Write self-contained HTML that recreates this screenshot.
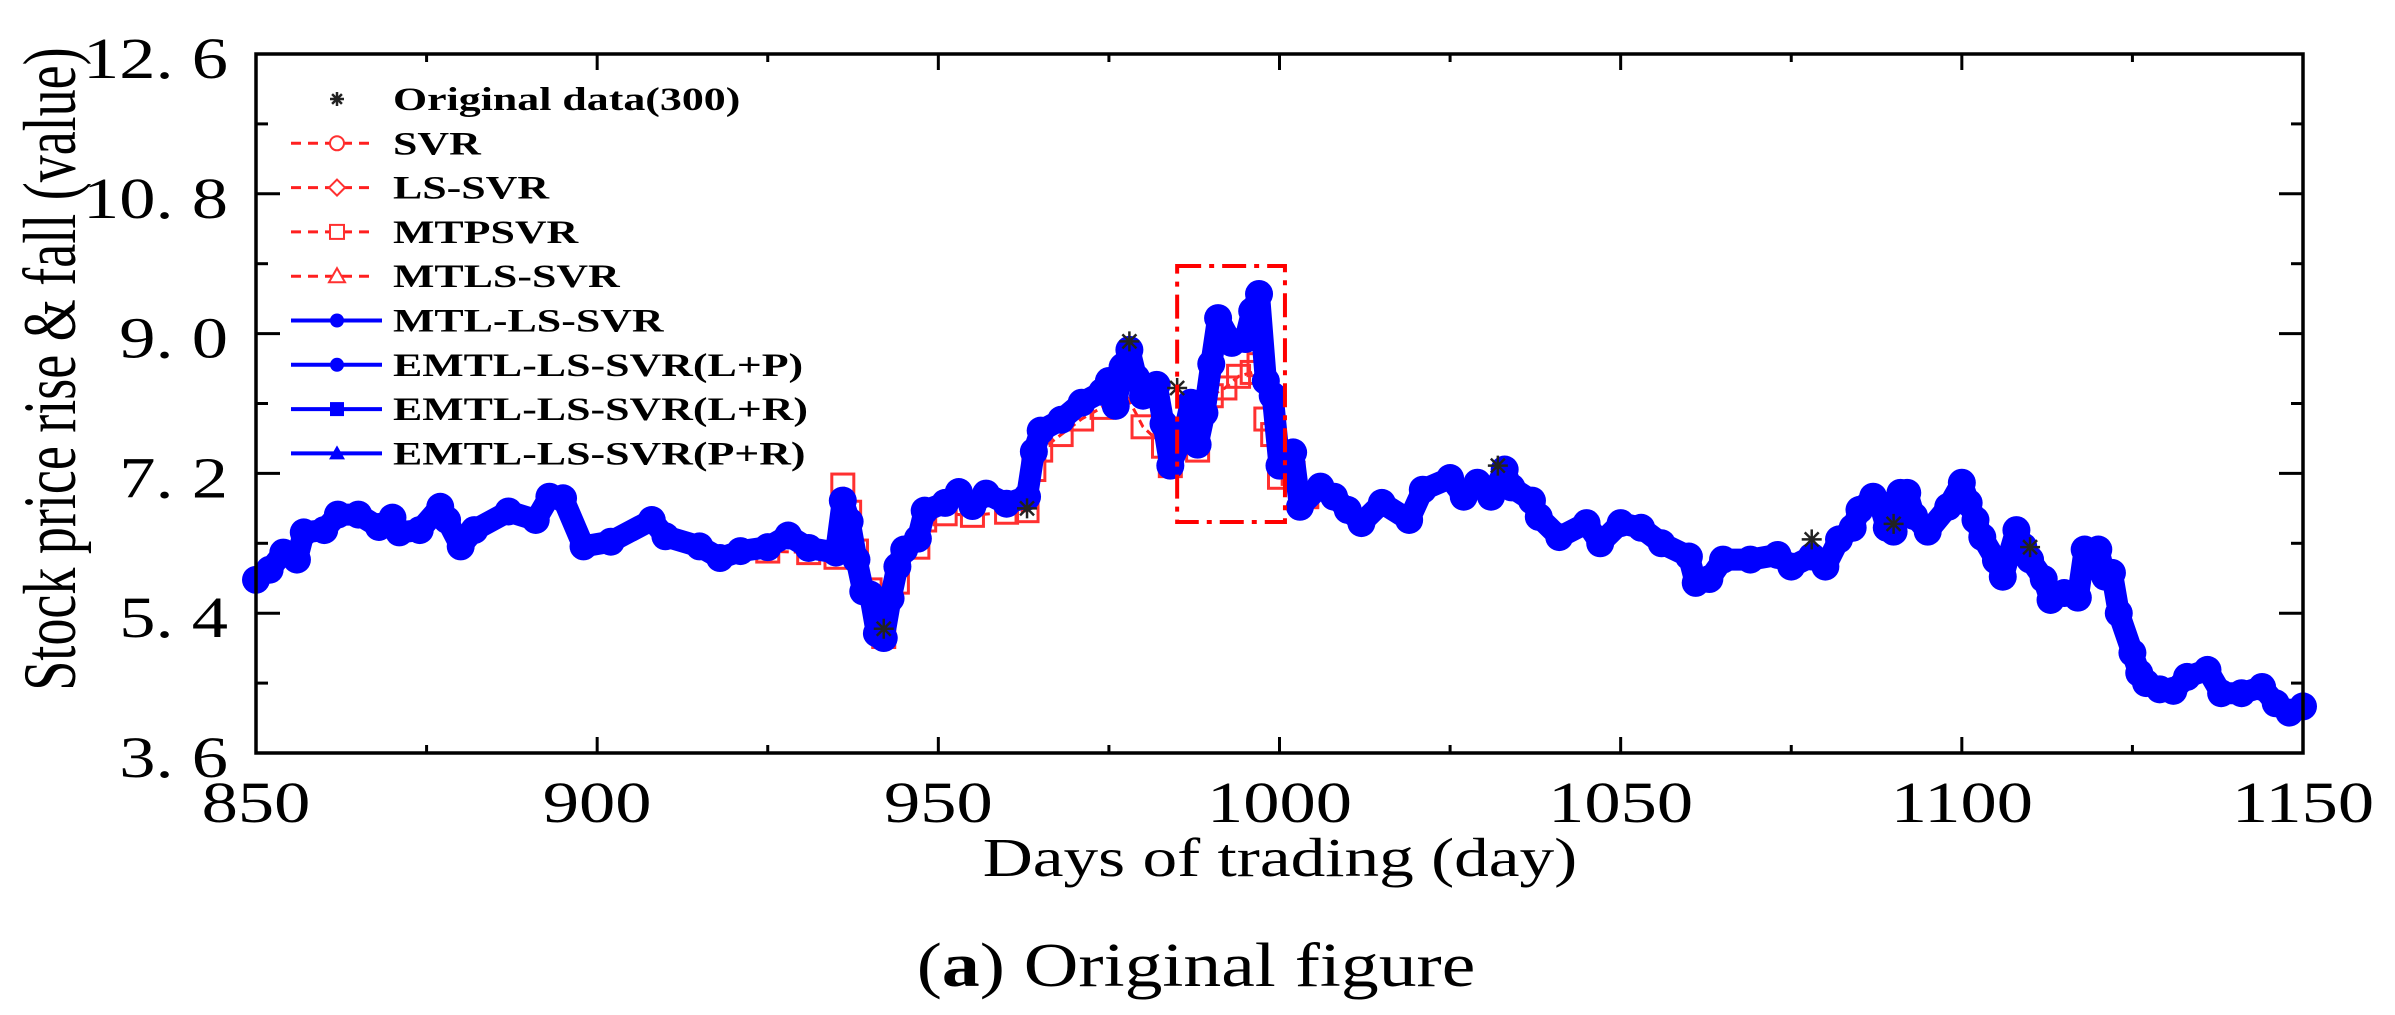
<!DOCTYPE html>
<html><head><meta charset="utf-8"><style>
html,body{margin:0;padding:0;background:#fff;}
svg{display:block;}
text{font-family:"Liberation Serif",serif;}
</style></head><body>
<svg id="chart" width="2395" height="1015" viewBox="0 0 2395 1015">
<rect x="0" y="0" width="2395" height="1015" fill="#fff"/>
<g id="series"></g>
<g id="axes"></g>
<g id="legend"></g>
<g transform="translate(75,369) scale(1.4,1) rotate(-90)"><text x="0" y="0" font-size="54" text-anchor="middle">Stock price rise &amp; fall (value)</text></g>
<g transform="translate(1280,876) scale(1.26,1)"><text x="0" y="0" font-size="55" text-anchor="middle">Days of trading (day)</text></g>
<g transform="translate(1196,986) scale(1.22,1)"><text x="0" y="0" font-size="62" text-anchor="middle">(<tspan font-weight="bold">a</tspan>) Original figure</text></g>
</svg>
<script>
const blueDays=[850,852,854,856,857,860,862,865,868,870,871,874,877,878,880,882,887,891,893,895,898,902,908,910,915,918,921,925,928,931,935,936,937,938,939,940,941,942,943,944,945,947,948,951,953,955,957,960,963,964,965,968,971,974,975,976,977,978,979,980,982,983,984,986,987,988,989,990,991,993,995,996,997,998,999,1000,1002,1003,1006,1008,1010,1012,1015,1019,1021,1025,1027,1029,1031,1033,1034,1037,1038,1041,1045,1047,1050,1053,1056,1060,1061,1063,1065,1069,1073,1075,1078,1080,1082,1084,1085,1087,1088,1089,1090,1091,1092,1093,1095,1098,1100,1101,1102,1103,1105,1106,1108,1109,1110,1112,1113,1115,1117,1118,1120,1121,1122,1123,1125,1126,1127,1129,1131,1133,1136,1138,1141,1144,1146,1148,1150];
const blueVals=[5.83,5.96,6.18,6.09,6.44,6.47,6.67,6.67,6.51,6.63,6.44,6.47,6.77,6.6,6.26,6.47,6.71,6.6,6.9,6.88,6.26,6.32,6.6,6.39,6.26,6.11,6.2,6.25,6.4,6.24,6.18,6.85,6.58,6.09,5.68,5.64,5.14,5.08,5.59,6.0,6.22,6.36,6.72,6.82,6.96,6.78,6.94,6.81,6.9,7.48,7.75,7.89,8.11,8.25,8.39,8.07,8.57,8.79,8.43,8.2,8.34,7.84,7.3,7.71,8.11,7.57,7.98,8.61,9.2,8.88,8.93,9.29,9.51,8.39,8.2,7.3,7.47,6.77,7.03,6.9,6.73,6.56,6.82,6.6,6.99,7.14,6.9,7.08,6.9,7.25,7.02,6.85,6.64,6.38,6.56,6.3,6.56,6.5,6.3,6.13,5.79,5.84,6.09,6.09,6.15,6.0,6.13,6.0,6.35,6.5,6.73,6.9,6.8,6.5,6.45,6.95,6.95,6.65,6.45,6.77,7.08,6.82,6.6,6.38,6.08,5.87,6.47,6.26,6.09,5.84,5.57,5.66,5.6,6.22,6.22,5.87,5.92,5.4,4.89,4.63,4.5,4.42,4.4,4.58,4.67,4.37,4.37,4.45,4.24,4.12,4.2];
const redDays=[925,931,935,936,937,938,940,942,944,947,948,951,955,960,963,964,965,968,971,974,977,980,983,984,986,988,990,992,994,996,997,998,999,1000,1002,1004];
const redVals=[6.2,6.18,6.12,7.05,6.7,6.2,5.7,5.1,5.8,6.25,6.6,6.68,6.66,6.7,6.72,7.25,7.5,7.7,7.9,8.05,8.3,7.8,7.55,7.3,7.6,7.5,8.2,8.3,8.45,8.5,8.6,7.9,7.7,7.15,7.2,6.9];
const starDays=[942,963,978,985,1032,1078,1090,1110];
const starVals=[5.2,6.75,8.9,8.3,7.3,6.35,6.55,6.25];
const yTicks=["3. 6","5. 4","7. 2","9. 0","10. 8","12. 6"];
const yTickVals=[3.6,5.4,7.2,9.0,10.8,12.6];
const xTicks=[850,900,950,1000,1050,1100,1150];
const legendLabels=["Original data(300)","SVR","LS-SVR","MTPSVR","MTLS-SVR","MTL-LS-SVR","EMTL-LS-SVR(L+P)","EMTL-LS-SVR(L+R)","EMTL-LS-SVR(P+R)"];

const L=256,R=2303,T=54,B=753;
const X=d=>L+(d-850)/300*(R-L);
const Y=v=>B-(v-3.6)/9*(B-T);
const NS="http://www.w3.org/2000/svg";
function mk(tag,attrs,parent){const e=document.createElementNS(NS,tag);for(const k in attrs)e.setAttribute(k,attrs[k]);parent.appendChild(e);return e;}
const S=document.getElementById('series'),A=document.getElementById('axes'),G=document.getElementById('legend');

// red MTPSVR series
let rp=redDays.map((d,i)=>X(d).toFixed(1)+','+Y(redVals[i]).toFixed(1)).join(' ');
const rl=mk('polyline',{points:rp,fill:'none',stroke:'#ff2020','stroke-width':3,'stroke-dasharray':'8 5'},S);


redDays.forEach((d,i)=>{
  const r=mk('rect',{x:X(d)-11,y:Y(redVals[i])-11,width:22,height:22,fill:'none',stroke:'#ff3030','stroke-width':3},S);
  
  
});
// blue series
let bp=blueDays.map((d,i)=>X(d).toFixed(1)+','+Y(blueVals[i]).toFixed(1)).join(' ');
const bl=mk('polyline',{points:bp,fill:'none',stroke:'#0000ff','stroke-width':22,'stroke-linejoin':'round','stroke-linecap':'round'},S);


blueDays.forEach((d,i)=>{
  const c=mk('circle',{cx:X(d),cy:Y(blueVals[i]),r:14,fill:'#0000ff'},S);
  
  
});
// original stars
function star(x,y,s,parent,name){
  const g=mk('g',{stroke:'#222','stroke-width':2.5},parent);
  
  
  mk('line',{x1:x-s,y1:y,x2:x+s,y2:y},g);
  mk('line',{x1:x,y1:y-s,x2:x,y2:y+s},g);
  mk('line',{x1:x-s*.7,y1:y-s*.7,x2:x+s*.7,y2:y+s*.7},g);
  mk('line',{x1:x-s*.7,y1:y+s*.7,x2:x+s*.7,y2:y-s*.7},g);
}
starDays.forEach((d,i)=>star(X(d),Y(starVals[i]),10,S,'original-data-point'));
// zoom box
const zb=mk('rect',{x:X(985),y:266,width:X(1000.8)-X(985),height:256,fill:'none',stroke:'#ff0000','stroke-width':4,'stroke-dasharray':'24 8 5 8'},S);



// axes frame
const fr=mk('rect',{x:L,y:T,width:R-L,height:B-T,fill:'none',stroke:'#000','stroke-width':3.5},A);


yTickVals.forEach((v,i)=>{
  const y=Y(v);
  mk('line',{x1:L,y1:y,x2:L+24,y2:y,stroke:'#000','stroke-width':3},A);
  mk('line',{x1:R,y1:y,x2:R-24,y2:y,stroke:'#000','stroke-width':3},A);
  if(i<yTickVals.length-1){const ym=Y(v+0.9);
    mk('line',{x1:L,y1:ym,x2:L+12,y2:ym,stroke:'#000','stroke-width':3},A);
    mk('line',{x1:R,y1:ym,x2:R-12,y2:ym,stroke:'#000','stroke-width':3},A);}
  const g=mk('g',{transform:`translate(228,${y+24}) scale(1.25,1)`},A);
  
  
  const t=mk('text',{x:0,y:0,'font-size':58,'text-anchor':'end'},g);t.textContent=yTicks[i];
});
xTicks.forEach((d,i)=>{
  const x=X(d);
  mk('line',{x1:x,y1:B,x2:x,y2:B-16,stroke:'#000','stroke-width':3},A);
  mk('line',{x1:x,y1:T,x2:x,y2:T+16,stroke:'#000','stroke-width':3},A);
  if(i<xTicks.length-1){const xm=X(d+25);
    mk('line',{x1:xm,y1:B,x2:xm,y2:B-8,stroke:'#000','stroke-width':3},A);
    mk('line',{x1:xm,y1:T,x2:xm,y2:T+8,stroke:'#000','stroke-width':3},A);}
  const g=mk('g',{transform:`translate(${x},822) scale(1.25,1)`},A);
  
  
  const t=mk('text',{x:0,y:0,'font-size':58,'text-anchor':'middle'},g);t.textContent=xTicks[i];
});

// legend
legendLabels.forEach((lab,i)=>{
  const y=99+i*44.3;
  const g=mk('g',{},G);
  
  
  if(i===0){star(337,y,7,g,'legend-star');}
  else if(i<5){
    mk('line',{x1:291,y1:y,x2:374,y2:y,stroke:'#ff2020','stroke-width':3,'stroke-dasharray':'10 7'},g);
    if(i===1) mk('circle',{cx:337,cy:y,r:7,fill:'#fff',stroke:'#ff3030','stroke-width':2},g);
    if(i===2) mk('polygon',{points:`337,${y-8} 345,${y} 337,${y+8} 329,${y}`,fill:'#fff',stroke:'#ff3030','stroke-width':2},g);
    if(i===3) mk('rect',{x:330,y:y-7,width:14,height:14,fill:'#fff',stroke:'#ff3030','stroke-width':2},g);
    if(i===4) mk('polygon',{points:`337,${y-8} 345,${y+6} 329,${y+6}`,fill:'#fff',stroke:'#ff3030','stroke-width':2},g);
  } else {
    mk('line',{x1:291,y1:y,x2:382,y2:y,stroke:'#0000ff','stroke-width':4},g);
    if(i===5||i===6) mk('circle',{cx:337,cy:y,r:7,fill:'#0000ff'},g);
    if(i===7) mk('rect',{x:330,y:y-7,width:14,height:14,fill:'#0000ff'},g);
    if(i===8) mk('polygon',{points:`337,${y-8} 345,${y+6} 329,${y+6}`,fill:'#0000ff'},g);
  }
  const tg=mk('g',{transform:`translate(393,${y+11}) scale(1.33,1)`},g);
  const t=mk('text',{x:0,y:0,'font-size':33,'font-weight':'bold'},tg);t.textContent=lab;
});
</script>
</body></html>
